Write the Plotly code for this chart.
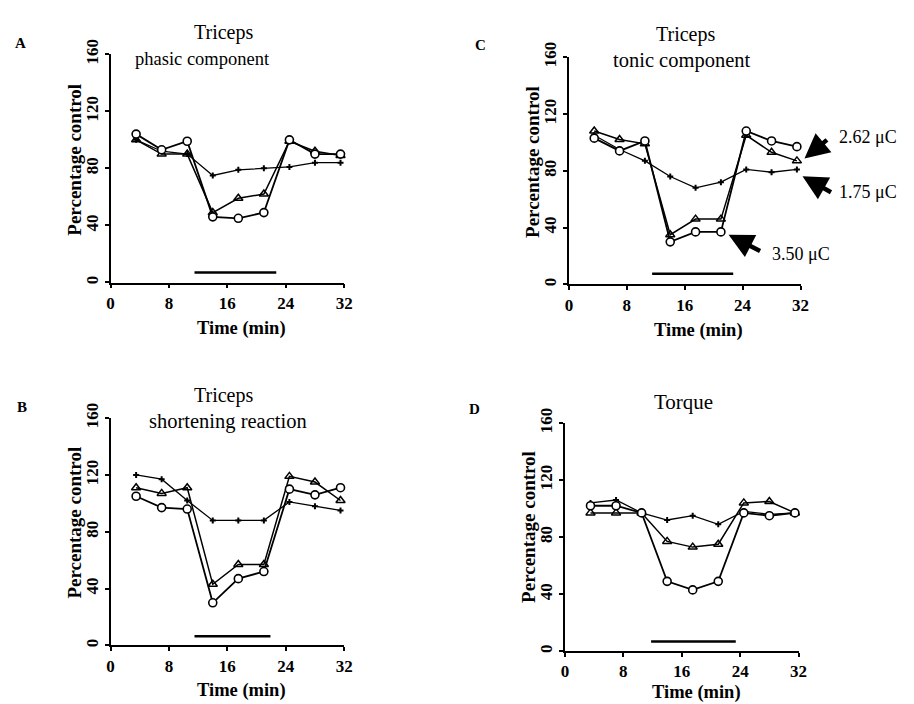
import plotly.graph_objects as go

# ---------------- data ----------------
times = [3.5, 7, 10.5, 14, 17.5, 21, 24.5, 28, 31.5]

# Panel A: Triceps phasic component
a_350 = [104, 93, 99, 46, 45, 49, 100, 90, 90]
a_262 = [100, 90, 90, 49, 59, 62, 99, 92, 89]
a_175 = [100, 92, 90, 75, 79, 80, 81, 84, 84]

# Panel B: Triceps shortening reaction
b_350 = [105, 97, 96, 30, 47, 52, 110, 106, 111]
b_262 = [111, 107, 111, 43, 57, 57, 119, 115, 102]
b_175 = [120, 117, 102, 88, 88, 88, 101, 98, 95]

# Panel C: Triceps tonic component
c_350 = [103, 94, 101, 30, 37, 37, 108, 101, 97]
c_262 = [108, 102, 99, 35, 46, 46, 105, 93, 87]
c_175 = [105, 95, 87, 76, 68, 72, 81, 79, 81]

# Panel D: Torque
d_350 = [102, 102, 97, 49, 43, 49, 97, 95, 97]
d_262 = [97, 97, 97, 77, 73, 75, 104, 105, 97]
d_175 = [104, 106, 97, 92, 95, 89, 98, 96, 97]

# stimulation bar (start, end, level) per panel
bar_a = ([11.5, 22.7], [7, 7])
bar_b = ([11.5, 21.9], [6.5, 6.5])
bar_c = ([11.5, 22.7], [7.5, 7.5])
bar_d = ([11.8, 23.4], [6.8, 6.8])

x_ticks = [0, 8, 16, 24, 32]
y_ticks = [0, 40, 80, 120, 160]

# page body has an 8px margin: figure sits at (8, 8) in the 914x704 window
OFF = 8
W, H = 914 - OFF, 704 - OFF
def px(x):
    return (x - OFF) / W
def py(y):
    return 1 - (y - OFF) / H

SERIF = "Liberation Serif"

fig = go.Figure()

panels = [
    # name, xaxis, yaxis, data, bar, x-pixel domain, y-pixel domain
    ("A", "x", "y", (a_350, a_262, a_175), bar_a, (108, 345), (40, 274)),
    ("B", "x2", "y2", (b_350, b_262, b_175), bar_b, (108, 345), (413, 646)),
    ("C", "x3", "y3", (c_350, c_262, c_175), bar_c, (573, 808), (43, 276)),
    ("D", "x4", "y4", (d_350, d_262, d_175), bar_d, (569, 806), (418, 652)),
]

for name, xa, ya, (s350, s262, s175), bar, xd, yd in panels:
    fig.add_trace(go.Scatter(x=times, y=s175, xaxis=xa, yaxis=ya, mode="lines+markers",
                             line=dict(color="black", width=1.3),
                             marker=dict(symbol="cross", size=5, color="black"),
                             cliponaxis=False, showlegend=False))
    fig.add_trace(go.Scatter(x=times, y=s262, xaxis=xa, yaxis=ya, mode="lines+markers",
                             line=dict(color="black", width=1.5),
                             marker=dict(symbol="triangle-up-open", size=8, color="black",
                                         line=dict(width=1.5)),
                             cliponaxis=False, showlegend=False))
    fig.add_trace(go.Scatter(x=times, y=s350, xaxis=xa, yaxis=ya, mode="lines+markers",
                             line=dict(color="black", width=1.8),
                             marker=dict(symbol="circle", size=8, color="white",
                                         line=dict(width=1.6, color="black")),
                             cliponaxis=False, showlegend=False))
    fig.add_trace(go.Scatter(x=bar[0], y=bar[1], xaxis=xa, yaxis=ya, mode="lines",
                             line=dict(color="black", width=2.6),
                             cliponaxis=False, showlegend=False))

axis_common = dict(showline=True, linecolor="black", linewidth=1.5, ticks="outside",
                   ticklen=4, tickwidth=1.5, tickcolor="black", showgrid=False,
                   zeroline=False, tickfont=dict(family=SERIF, size=17, color="black",
                                                 weight="bold"))

layout = dict(width=W, height=H, paper_bgcolor="white", plot_bgcolor="white",
              margin=dict(l=0, r=0, t=0, b=0), showlegend=False)

for i, (name, xa, ya, data, bar, xd, yd) in enumerate(panels):
    sfx = "" if i == 0 else str(i + 1)
    layout["xaxis" + sfx] = dict(axis_common, domain=[px(xd[0]), px(xd[1])],
                                 range=[0, 32], tickvals=x_ticks, anchor=ya,
                                 fixedrange=True)
    layout["yaxis" + sfx] = dict(axis_common, domain=[py(yd[1]), py(yd[0])],
                                 range=[0, 160], tickvals=y_ticks, tickangle=-90,
                                 anchor=xa, fixedrange=True)

fig.update_layout(**layout)

def txt(x, y, s, size=19, bold=False, angle=0):
    fig.add_annotation(x=px(x), y=py(y), xref="paper", yref="paper", text=s,
                       showarrow=False, textangle=angle,
                       font=dict(family=SERIF, size=size, color="black",
                                 weight="bold" if bold else "normal"),
                       xanchor="center", yanchor="middle")

# panel letters
txt(17, 29, "A", 15, True)
txt(18, 402, "B", 15, True)
txt(483, 31, "C", 15, True)
txt(477, 404, "D", 15, True)

# titles
txt(223, 18, "Triceps", 20)
txt(201, 45, "phasic component", 18.5)
txt(223, 390, "Triceps", 20)
txt(227, 416, "shortening reaction", 20.5)
txt(691, 20, "Triceps", 20)
txt(688, 46, "tonic component", 20.5)
txt(689, 396, "Torque", 21)

# axis titles
for (x, y) in [(71, 148), (71, 520), (536, 150), (532, 524)]:
    txt(x, y, "Percentage control", 19, True, -90)
for (x, y) in [(241, 321), (241, 692), (705, 323), (702, 694)]:
    txt(x, y, "Time (min)", 18.5, True)

# dose labels with arrows in panel C (tip pixel, tail offset, label, label pos)
arrows = [
    (812, 147, 24, -20, "2.62 μC", 845, 125),
    (810, 165, 30, 17, "1.75 μC", 845, 181),
    (735, 225, 33, 17, "3.50 μC", 777, 245),
]
for (tx, ty, axp, ayp, label, lx, ly) in arrows:
    fig.add_annotation(x=px(tx), y=py(ty), xref="paper", yref="paper", ax=axp, ay=ayp,
                       axref="pixel", ayref="pixel", text="", showarrow=True,
                       arrowhead=2, arrowsize=1.1, arrowwidth=4.5, arrowcolor="black")
    fig.add_annotation(x=px(lx), y=py(ly), xref="paper", yref="paper", text=label,
                       showarrow=False, xanchor="left", yanchor="middle",
                       font=dict(family=SERIF, size=18, color="black"))

fig.write_html("out.html")
